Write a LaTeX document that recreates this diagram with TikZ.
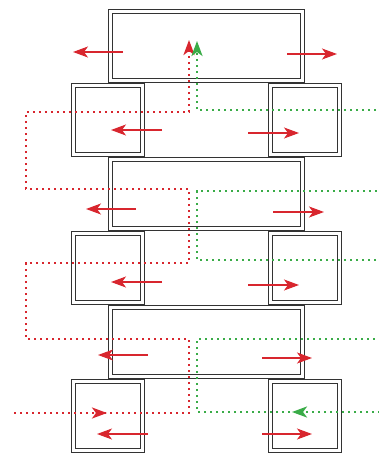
\documentclass[tikz,border=0pt]{standalone}
\usetikzlibrary{arrows.meta,decorations.markings,calc}

\definecolor{flowred}{RGB}{216,38,46}
\definecolor{flowgreen}{RGB}{58,172,72}

\begin{document}
\begin{tikzpicture}[x=1pt, y=-1pt,
  >={Stealth[length=15pt, width=11pt, inset=4pt]},
  wall/.style={draw=black!80, line width=1pt, inner sep=0pt},
  wide/.style={wall, minimum width=196pt, minimum height=73pt},
  cell/.style={wall, minimum width=73pt, minimum height=73pt},
  push/.style={flowred, line width=1.2pt, ->},
  dots/.style={line width=2.4pt, dash pattern=on 2.4pt off 3.6pt}]

  % Parameters
  \def\pitch{148}   % vertical period of one wide box + one row of cells
  \def\gap{4.5}     % outer to inner wall line
  \def\rx{189}      % red riser
  \def\gx{197}      % green riser
  \def\lx{26}       % red return on the left
  \def\ex{392}      % green return, outside the frame

  \useasboundingbox (0,0) rectangle (379,454);
  \clip (0,0) rectangle (379,454);

  % Wide boxes and the cells under them
  \foreach \k in {0,1,2} {
    \pgfmathsetmacro\wy{46+\pitch*\k}
    \pgfmathsetmacro\cy{120+\pitch*\k}
    \node[wide] (wide\k) at (206.5,\wy) {};
    \node[cell] (left\k) at (108,\cy) {};
    \node[cell] (right\k) at (305,\cy) {};
  }

  % Inner wall lines
  \foreach \n in {wide0,left0,right0,wide1,left1,right1,wide2,left2,right2}
    \draw[draw=black!80, line width=1pt]
      ($(\n.north west)+(\gap,\gap)$) rectangle ($(\n.south east)-(\gap,\gap)$);

  % Push arrows in the wide boxes
  \draw[push] (123,52) -- (73,52);
  \draw[push] (287,54) -- (337,54);
  \draw[push] (136,209) -- (86,209);
  \draw[push] (273,212) -- (324,212);
  \draw[push] (148,355) -- (98,355);
  \draw[push] (262,358) -- (312,358);

  % Push arrows in the cells
  \draw[push] (162,130) -- (111,130);
  \draw[push] (248,133) -- (299,133);
  \draw[push] (162,282) -- (111,282);
  \draw[push] (248,285) -- (299,285);
  \draw[push] (148,434) -- (97,434);
  \draw[push] (262,434) -- (312,434);

  % Ends of the two flows
  \coordinate (redin) at (14,413);
  \coordinate (redout) at (\rx,40);
  \coordinate (greenin) at (\ex,412);
  \coordinate (greenout) at (\gx,41);

  % Red flow: in from the left, zig-zag up
  \draw[dots, flowred, ->, postaction={decorate},
        decoration={markings, mark=at position 93pt with {\arrow{>}}}]
    (redin) -- (\rx,413) -- (\rx,339) -- (\lx,339) -- (\lx,263)
    -- (\rx,263) -- (\rx,189) -- (\lx,189) -- (\lx,112)
    -- (\rx,112) -- (redout);

  % Green flow: in from the right, zig-zag up
  \draw[dots, flowgreen, ->, postaction={decorate},
        decoration={markings, mark=at position 100pt with {\arrow{>}}}]
    (greenin) -- (\gx,412) -- (\gx,339) -- (\ex,339) -- (\ex,260)
    -- (\gx,260) -- (\gx,191) -- (\ex,191) -- (\ex,110)
    -- (\gx,110) -- (greenout);

\end{tikzpicture}
\end{document}
